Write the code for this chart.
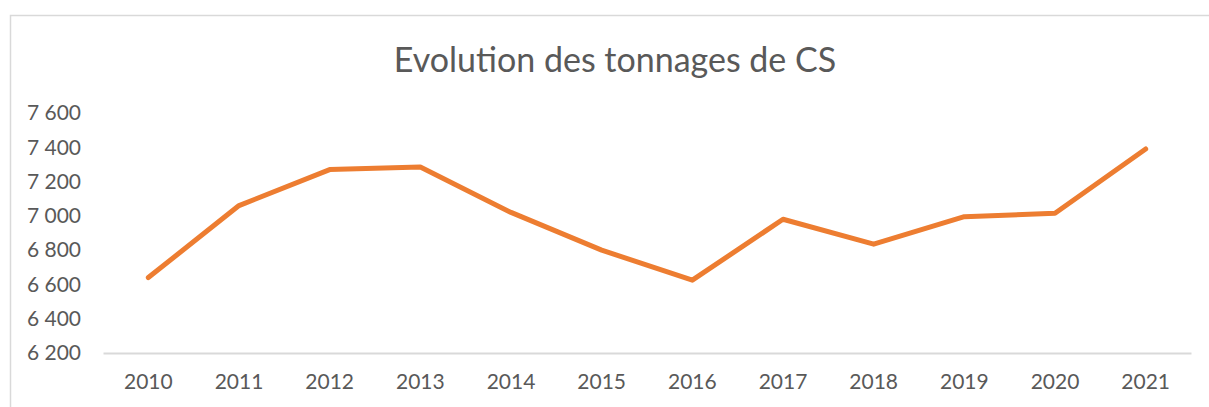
<!DOCTYPE html>
<html>
<head>
<meta charset="utf-8">
<script src="https://cdn.jsdelivr.net/npm/d3@7"></script>
<style>
  body { margin: 0; background: #fff; }
  text { font-family: Lato, 'Open Sans', sans-serif; fill: #595959; }
</style>
</head>
<body>
<div id="chart"></div>
<script>
let years = ['2010', '2011', '2012', '2013', '2014', '2015', '2016', '2017', '2018', '2019', '2020', '2021']
let tonnages = [6640, 7060, 7270, 7285, 7020, 6800, 6625, 6980, 6835, 6995, 7015, 7390]
let yTicks = [6200, 6400, 6600, 6800, 7000, 7200, 7400, 7600]
let title = 'Evolution des tonnages de CS'

let width = 1209
let height = 407
let margin = { top: 113, left: 103, right: 18, bottom: 54 }

let svg = d3
  .select('#chart')
  .append('svg')
  .attr('width', width)
  .attr('height', height)

// chart frame (runs off the right and bottom of the picture)
svg
  .append('rect')
  .attr('x', 10.5)
  .attr('y', 15.5)
  .attr('width', width + 20)
  .attr('height', height + 20)
  .attr('fill', 'none')
  .attr('stroke', '#d9d9d9')
  .attr('stroke-width', 1.5)

let xPositionScale = d3
  .scaleBand()
  .domain(years)
  .range([margin.left, width - margin.right])

let yPositionScale = d3
  .scaleLinear()
  .domain([6200, 7600])
  .range([height - margin.bottom, margin.top])

svg
  .append('text')
  .attr('x', 615)
  .attr('y', 72)
  .attr('text-anchor', 'middle')
  .attr('font-size', 34)
  .text(title)

let yAxis = d3
  .axisLeft(yPositionScale)
  .tickValues(yTicks)
  .tickSize(0)
  .tickPadding(0)
  .tickFormat(d => d3.format(',')(d).replace(',', ' '))

svg
  .append('g')
  .attr('class', 'axis y-axis')
  .attr('transform', 'translate(81,0)')
  .call(yAxis)
  .call(g => g.select('.domain').remove())
  .selectAll('text')
  .attr('font-size', 21)
  .attr('fill', '#595959')

let xAxis = d3
  .axisBottom(xPositionScale)
  .tickSize(0)
  .tickPadding(21)

svg
  .append('g')
  .attr('class', 'axis x-axis')
  .attr('transform', 'translate(0,' + (height - margin.bottom) + ')')
  .call(xAxis)
  .call(g => g.select('.domain').attr('stroke', '#d9d9d9').attr('stroke-width', 2))
  .selectAll('text')
  .attr('font-size', 21)
  .attr('fill', '#595959')

let line = d3
  .line()
  .x((d, i) => xPositionScale(years[i]) + xPositionScale.bandwidth() / 2)
  .y(d => yPositionScale(d))

svg
  .append('path')
  .datum(tonnages)
  .attr('d', line)
  .attr('fill', 'none')
  .attr('stroke', '#ED7D31')
  .attr('stroke-width', 5)
  .attr('stroke-linecap', 'round')
  .attr('stroke-linejoin', 'round')
</script>
</body>
</html>
